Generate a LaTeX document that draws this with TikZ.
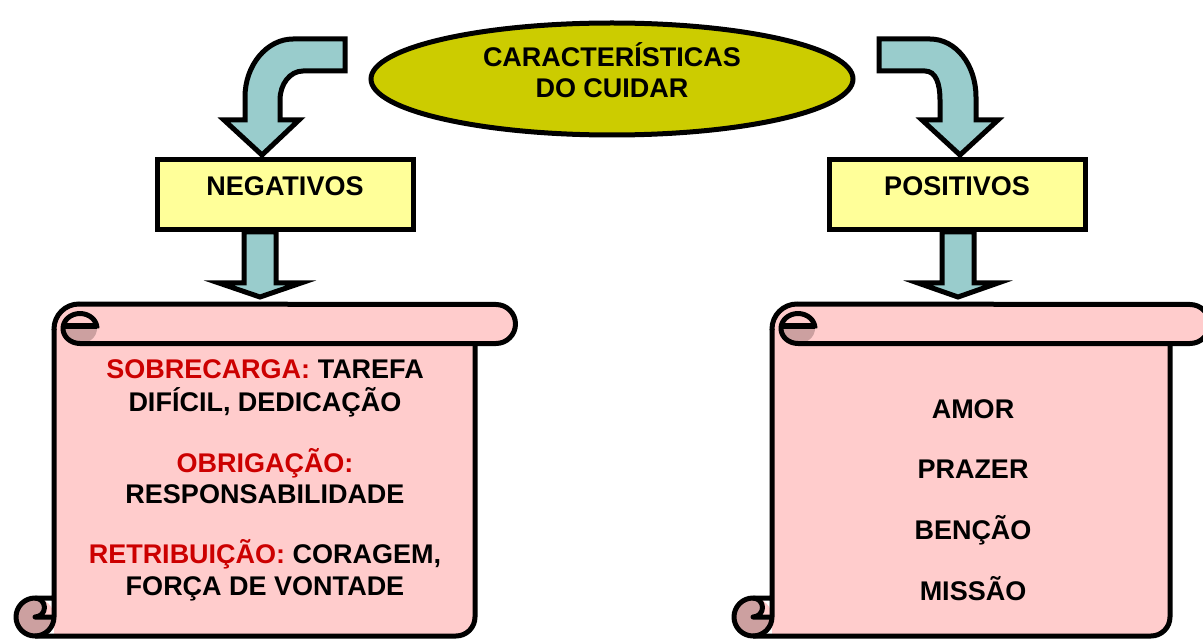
\documentclass[tikz,border=0pt]{standalone}
\usepackage{fontspec}
\setmainfont{Liberation Sans}
\definecolor{arrowc}{RGB}{153,204,204}
\definecolor{ellc}{RGB}{204,204,0}
\definecolor{boxc}{RGB}{255,255,153}
\definecolor{scrollc}{RGB}{255,204,204}
\definecolor{curlc}{RGB}{204,160,160}
\definecolor{redc}{RGB}{204,0,0}
\tikzset{
  outline/.style={draw=black, line width=5pt, line join=round},
  blockarrow/.style={fill=arrowc, draw=black, line width=5pt, line join=miter},
  lbl/.style={font=\fontsize{27}{32}\selectfont\bfseries, inner sep=0pt, anchor=base},
  labelbox/.style={draw=black, fill=boxc, line width=5pt, minimum width=256pt, minimum height=70pt, inner sep=0pt},
}
% #1 body left x, #2 body right x, #3 band end arc centre x
\newcommand\drawscroll[3]{%
  \fill[scrollc] (#1,636) -- (#1,329) arc[start angle=180,end angle=270,radius=25]
     -- (#3,304) arc[start angle=-90,end angle=90,radius=19.5]
     -- (#2,343) -- (#2,617) arc[start angle=0,end angle=90,radius=19] -- cycle;
  \fill[scrollc] ({#1-19},617) circle[radius=19];
  \fill[curlc] (#1,617) arc[start angle=0,end angle=270,radius=19]
     arc[start angle=270,end angle=450,radius=9.5] -- cycle;
  \begin{scope}
    \clip ({#1+5},326) rectangle ({#1+47},346);
    \fill[curlc] ({#1+26},328.5) ellipse[x radius=17,y radius=15];
  \end{scope}
  \draw[outline] (#1,329) -- (#1,617) arc[start angle=0,end angle=270,radius=19] -- (#1,598);
  \draw[outline] ({#1-19},636) -- ({#2-19},636) arc[start angle=90,end angle=0,radius=19] -- (#2,343);
  \draw[outline] ({#1-19},598) arc[start angle=270,end angle=450,radius=9.5] -- (#1,617);
  \draw[outline] ({#1+43},328.5) arc[start angle=0,end angle=-270,x radius=17,y radius=15]
     -- (#3,343.5) arc[start angle=90,end angle=-90,radius=19.5]
     -- ({#1+25},304) arc[start angle=270,end angle=180,radius=25] -- (#1,330);
  \draw[outline] ({#1+9},326) -- ({#1+43},326);
}
\begin{document}
\begin{tikzpicture}[x=1pt,y=-1pt]
\useasboundingbox (0,0) rectangle (1203,639);

% scrolls
\drawscroll{54}{475}{496}
\drawscroll{772}{1170}{1190}

% straight arrows
\draw[blockarrow] (244,232) -- (244,283) -- (219,283) -- (260,297) -- (301,283) -- (276,283) -- (276,232) -- cycle;
\draw[blockarrow] (942,232) -- (942,283) -- (918,283) -- (958,297) -- (998,283) -- (974,283) -- (974,232) -- cycle;

% boxes
\node[labelbox] (neg) at (285,195) {};
\node[labelbox] (pos) at (957,195) {};
\node[lbl] (negt) at (285,196) {NEGATIVOS};
\node[lbl] (post) at (957,196) {POSITIVOS};

% curved arrows
\draw[blockarrow] (345,39) -- (293,39) .. controls (267,39) and (245,65) .. (245,97)
  -- (245,120) -- (224,120) -- (262,155) -- (299,120) -- (280,120) -- (280,100)
  .. controls (280,84) and (290,71) .. (303,71) -- (345,71) -- cycle;
\draw[blockarrow] (879,39) -- (930,39) .. controls (956,39) and (976,65) .. (976,97)
  -- (976,120) -- (998,120) -- (960,155) -- (922,120) -- (940,120) -- (940,100)
  .. controls (940,84) and (936,71) .. (925,71) -- (879,71) -- cycle;

% title ellipse
\draw[fill=ellc, line width=5pt] (612,79) ellipse[x radius=241,y radius=56];
\node[lbl] (ti1) at (612,67) {CARACTERÍSTICAS};
\node[lbl] (ti2) at (612,98) {DO CUIDAR};

% left texts
\node[lbl] (s1) at (265,378) {\textcolor{redc}{SOBRECARGA:} TAREFA};
\node[lbl] (s2) at (265,411) {DIFÍCIL, DEDICAÇÃO};
\node[lbl] (s3) at (265,472) {\textcolor{redc}{OBRIGAÇÃO:}};
\node[lbl] (s4) at (265,503) {RESPONSABILIDADE};
\node[lbl] (s5) at (265,563) {\textcolor{redc}{RETRIBUIÇÃO:} CORAGEM,};
\node[lbl] (s6) at (265,595) {FORÇA DE VONTADE};

% right texts
\node[lbl] (p1) at (973,418) {AMOR};
\node[lbl] (p2) at (973,478) {PRAZER};
\node[lbl] (p3) at (973,539) {BENÇÃO};
\node[lbl] (p4) at (973,600) {MISSÃO};
\end{tikzpicture}
\end{document}
